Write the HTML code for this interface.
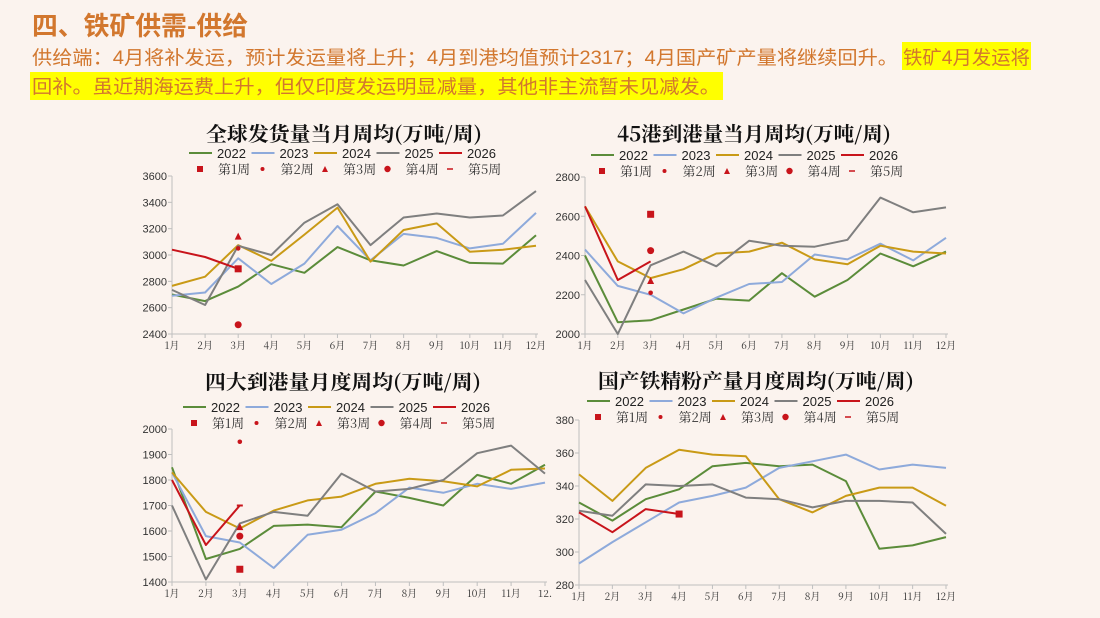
<!DOCTYPE html>
<html><head><meta charset="utf-8"><style>
html,body{margin:0;padding:0;background:#fbf3ee;}
svg{display:block;font-family:"Liberation Sans","Noto Sans CJK SC",sans-serif;}
</style></head><body>
<svg id="s" width="1100" height="618" viewBox="0 0 1100 618" xmlns="http://www.w3.org/2000/svg">
<rect width="1100" height="618" fill="#fbf3ee"/>
<text x="32" y="35" font-size="26" font-weight="bold" fill="#d2772e" font-family="'Noto Sans CJK SC',sans-serif" textLength="216" lengthAdjust="spacingAndGlyphs">四、铁矿供需-供给</text>
<rect x="902" y="42" width="129" height="28" fill="#ffff00"/>
<rect x="30" y="72" width="693" height="28" fill="#ffff00"/>
<text x="32" y="64" font-size="19" fill="#d2772e" textLength="866" lengthAdjust="spacingAndGlyphs">供给端：4月将补发运，预计发运量将上升；4月到港均值预计2317；4月国产矿产量将继续回升。</text>
<text x="903" y="64" font-size="19" fill="#d2772e" textLength="127" lengthAdjust="spacingAndGlyphs">铁矿4月发运将</text>
<text x="32" y="93" font-size="19" fill="#d2772e" textLength="688" lengthAdjust="spacingAndGlyphs">回补。虽近期海运费上升，但仅印度发运明显减量，其他非主流暂未见减发。</text>
<g id="charts"></g>
</svg>
<script>
var C={g:"#5b8c3a",b:"#8eaadb",y:"#c99a16",k:"#7f7f7f",r:"#c8141b"};
var root=document.getElementById("charts"),html="";
function chart(o){
 var dx=(o.x1-o.x0)/11;
 function X(i){return o.x0+i*dx;}
 function Y(v){return o.yb-(v-o.vmin)/(o.vmax-o.vmin)*(o.yb-o.yt);}
 var s="";
 s+='<text x="'+o.tx+'" y="'+o.ty+'" font-size="20" font-weight="bold" text-anchor="middle" font-family="\'Noto Serif CJK SC\',serif" fill="#111" textLength="'+o.tw+'" lengthAdjust="spacingAndGlyphs">'+o.title+'</text>';
 var yrs=["2022","2023","2024","2025","2026"],cols=[C.g,C.b,C.y,C.k,C.r];
 for(var i=0;i<5;i++){var lx=o.lx+i*62.5;
  s+='<line x1="'+lx+'" y1="'+o.ly+'" x2="'+(lx+23)+'" y2="'+o.ly+'" stroke="'+cols[i]+'" stroke-width="2"/>';
  s+='<text x="'+(lx+28)+'" y="'+(o.ly+5)+'" font-size="13" fill="#222">'+yrs[i]+'</text>';
  var mx=lx+11,my=o.ly+16;
  if(i==0)s+='<rect x="'+(mx-3)+'" y="'+(my-3)+'" width="6" height="6" fill="'+C.r+'"/>';
  if(i==1)s+='<circle cx="'+mx+'" cy="'+my+'" r="2" fill="'+C.r+'"/>';
  if(i==2)s+='<polygon points="'+mx+','+(my-3)+' '+(mx+3)+','+(my+3)+' '+(mx-3)+','+(my+3)+'" fill="'+C.r+'"/>';
  if(i==3)s+='<circle cx="'+mx+'" cy="'+my+'" r="3.2" fill="'+C.r+'"/>';
  if(i==4)s+='<line x1="'+(mx-3)+'" y1="'+my+'" x2="'+(mx+3)+'" y2="'+my+'" stroke="'+C.r+'" stroke-width="1.5"/>';
  s+='<text x="'+(lx+29)+'" y="'+(my+5)+'" font-size="13" fill="#333" font-family="\'Noto Serif CJK SC\',serif">第'+(i+1)+'周</text>';
 }
 s+='<line x1="'+o.x0+'" y1="'+o.yt+'" x2="'+o.x0+'" y2="'+o.yb+'" stroke="#bfbfbf"/>';
 s+='<line x1="'+o.x0+'" y1="'+o.yb+'" x2="'+(o.x1+2)+'" y2="'+o.yb+'" stroke="#bfbfbf"/>';
 for(var v=o.vmin;v<=o.vmax;v+=o.step){var yy=Y(v);
  s+='<line x1="'+(o.x0-4)+'" y1="'+yy+'" x2="'+o.x0+'" y2="'+yy+'" stroke="#bfbfbf"/>';
  s+='<text x="'+(o.x0-5)+'" y="'+(yy+4)+'" font-size="11" text-anchor="end" fill="#333">'+v+'</text>';}
 for(var i=0;i<12;i++){var xx=X(i);
  s+='<line x1="'+xx+'" y1="'+o.yb+'" x2="'+xx+'" y2="'+(o.yb+4)+'" stroke="#bfbfbf"/>';
  var lab=(o.cut&&i==11)?"12.":(i+1)+"月";
  s+='<text x="'+xx+'" y="'+(o.yb+15)+'" font-size="10" text-anchor="middle" fill="#333" font-family="\'Noto Serif CJK SC\',serif">'+lab+'</text>';}
 var ser=[[o.d[0],C.g],[o.d[1],C.b],[o.d[2],C.y],[o.d[3],C.k],[o.d[4],C.r]];
 ser.forEach(function(p){var pts=p[0].map(function(v,i){return X(i).toFixed(1)+","+Y(v).toFixed(1);}).join(" ");
  s+='<polyline points="'+pts+'" fill="none" stroke="'+p[1]+'" stroke-width="2" stroke-linejoin="round"/>';});
 var m=o.m,mx=X(m.i);
 if(m.sq!=null)s+='<rect x="'+(mx-3.5)+'" y="'+(Y(m.sq)-3.5)+'" width="7" height="7" fill="'+C.r+'"/>';
 if(m.di!=null)s+='<circle cx="'+mx+'" cy="'+Y(m.di)+'" r="2.3" fill="'+C.r+'"/>';
 if(m.tr!=null){var ty=Y(m.tr);s+='<polygon points="'+mx+','+(ty-4)+' '+(mx+3.5)+','+(ty+3)+' '+(mx-3.5)+','+(ty+3)+'" fill="'+C.r+'"/>';}
 if(m.ci!=null)s+='<circle cx="'+mx+'" cy="'+Y(m.ci)+'" r="3.5" fill="'+C.r+'"/>';
 if(m.da!=null)s+='<line x1="'+(mx-3)+'" y1="'+Y(m.da)+'" x2="'+(mx+3)+'" y2="'+Y(m.da)+'" stroke="'+C.r+'" stroke-width="2"/>';
 html+=s;
}
chart({title:"全球发货量当月周均(万吨/周)",tw:276,tx:344,ty:141,lx:189,ly:153,x0:172,x1:536,yt:176,yb:334,vmin:2400,vmax:3600,step:200,
 d:[[2700,2650,2760,2930,2865,3060,2960,2920,3030,2940,2935,3150],
    [2690,2715,2975,2780,2935,3220,2960,3160,3130,3050,3085,3320],
    [2765,2835,3075,2955,3155,3360,2950,3190,3240,3025,3040,3070],
    [2735,2620,3070,3000,3245,3385,3075,3285,3315,3285,3300,3485],
    [3040,2985,2895]],m:{i:2,sq:2895,di:3050,tr:3140,ci:2470}});
chart({title:"45港到港量当月周均(万吨/周)",tw:274,tx:754,ty:141,lx:591,ly:155,x0:585,x1:946,yt:177,yb:334,vmin:2000,vmax:2800,step:200,
 d:[[2400,2060,2070,2125,2180,2170,2310,2190,2275,2410,2345,2420],
    [2430,2245,2200,2105,2185,2255,2265,2405,2380,2460,2375,2490],
    [2650,2370,2285,2330,2410,2420,2465,2380,2355,2450,2420,2410],
    [2275,2000,2350,2420,2345,2475,2450,2445,2480,2695,2620,2645],
    [2650,2275,2370]],m:{i:2,sq:2610,di:2210,tr:2270,ci:2425}});
chart({title:"四大到港量月度周均(万吨/周)",tw:276,tx:343,ty:389,lx:183,ly:407,x0:172,x1:545,yt:429,yb:582,vmin:1400,vmax:2000,step:100,cut:1,
 d:[[1850,1490,1530,1620,1625,1615,1755,1730,1700,1820,1785,1860],
    [1830,1580,1555,1455,1585,1605,1670,1770,1750,1785,1765,1790],
    [1830,1675,1610,1680,1720,1735,1785,1805,1795,1775,1840,1845],
    [1700,1410,1630,1675,1660,1825,1755,1765,1800,1905,1935,1825],
    [1800,1545,1700]],m:{i:2,sq:1450,di:1950,tr:1615,ci:1580,da:1700}});
chart({title:"国产铁精粉产量月度周均(万吨/周)",tw:316,tx:756,ty:388,lx:587,ly:401,x0:579,x1:946,yt:420,yb:585,vmin:280,vmax:380,step:20,
 d:[[330,319,332,338,352,354,352,353,343,302,304,309],
    [293,306,318,330,334,339,351,355,359,350,353,351],
    [347,331,351,362,359,358,332,324,334,339,339,328],
    [325,322,341,340,341,333,332,327,331,331,330,311],
    [324,312,326,323]],m:{i:3,sq:323}});
root.innerHTML=html;
</script>
</body></html>
